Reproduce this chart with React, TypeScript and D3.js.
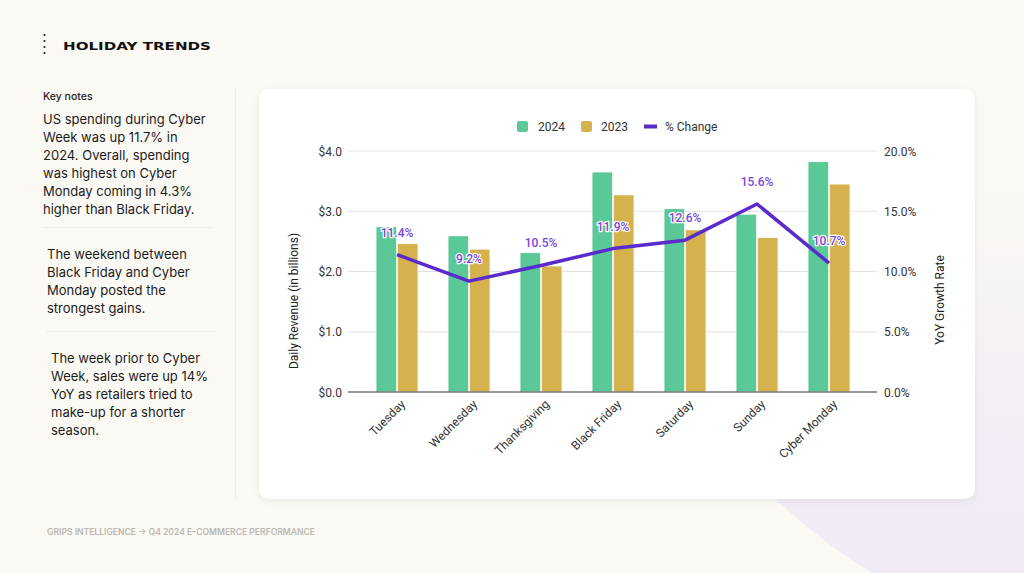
import React from "react";
import * as d3 from "d3";

const categories = ["Tuesday", "Wednesday", "Thanksgiving", "Black Friday", "Saturday", "Sunday", "Cyber Monday"];
const revenue2024 = [2.74, 2.59, 2.31, 3.65, 3.04, 2.95, 3.82];
const revenue2023 = [2.46, 2.37, 2.09, 3.27, 2.69, 2.56, 3.45];
const pctChange = [11.4, 9.2, 10.5, 11.9, 12.6, 15.6, 10.7];
const leftTicks = [0, 1, 2, 3, 4];
const rightTicks = [0, 5, 10, 15, 20];
const seriesNames = ["2024", "2023"];

const note1 = ["US spending during Cyber", "Week was up 11.7% in", "2024. Overall, spending", "was highest on Cyber", "Monday coming in 4.3%", "higher than Black Friday."];
const note2 = ["The weekend between", "Black Friday and Cyber", "Monday posted the", "strongest gains."];
const note3 = ["The week prior to Cyber", "Week, sales were up 14%", "YoY as retailers tried to", "make-up for a shorter", "season."];

const GREEN = "#5bc898";
const GOLD = "#d5b24d";
const PURPLE = "#5a2bcc";
const LABEL_PURPLE = "#7a45e0";

export default function App() {
  const W = 1024, H = 573;
  const plotTop = 151, plotBottom = 392;
  const gridL = 348, gridR = 877;
  const x = d3.scaleBand<string>().domain(categories).range([361, 865]).paddingInner(0.42).paddingOuter(0.21);
  const xs = d3.scaleBand<string>().domain(seriesNames).range([0, x.bandwidth()]).paddingInner(0.06);
  const yL = d3.scaleLinear().domain([0, 4]).range([plotBottom, plotTop]);
  const yR = d3.scaleLinear().domain([0, 20]).range([plotBottom, plotTop]);
  const cx = (c: string) => (x(c) as number) + x.bandwidth() / 2;
  const line = d3.line<number>().x((_, i) => cx(categories[i])).y((v) => yR(v));
  const sans = "Inter, 'Noto Sans', sans-serif";
  const rob = "Roboto, 'Noto Sans', sans-serif";

  const notes = [
    { lines: note1, x: 43, y: 124 },
    { lines: note2, x: 47, y: 259 },
    { lines: note3, x: 51, y: 363 },
  ];

  return (
    <div style={{ position: "absolute", left: 0, top: 0, width: W, height: H }}>
      <svg width={W} height={H} style={{ display: "block" }}>
        <defs>
          <linearGradient id="lav" x1="0" y1="180" x2="0" y2="540" gradientUnits="userSpaceOnUse">
            <stop offset="0" stopColor="#f1ebf6" stopOpacity="0" />
            <stop offset="0.6" stopColor="#f1ebf6" stopOpacity="0.8" />
            <stop offset="1" stopColor="#f1ebf6" stopOpacity="1" />
          </linearGradient>
          <filter id="sh" x="-5%" y="-5%" width="110%" height="115%">
            <feDropShadow dx="0" dy="2" stdDeviation="3" floodColor="#000" floodOpacity="0.07" />
          </filter>
          <clipPath id="pg"><rect x="0" y="0" width={W} height={H} /></clipPath>
        </defs>
        <rect x={0} y={0} width={W} height={H} fill="#fbf9f3" />
        <g clipPath="url(#pg)">
          <circle cx={1157} cy={100} r={552} fill="url(#lav)" />
        </g>

        {/* header */}
        {[35, 41, 47, 53].map((yy) => (
          <circle key={yy} cx={44.5} cy={yy} r={1.1} fill="#222" />
        ))}
        <text x={63} y={50} fontFamily="'DejaVu Sans', sans-serif" fontWeight={700} fontSize={10} fill="#111" textLength={148} lengthAdjust="spacingAndGlyphs">HOLIDAY TRENDS</text>

        {/* notes */}
        <text x={43} y={100} fontFamily={sans} fontSize={10.5} fontWeight={500} fill="#222">Key notes</text>
        {notes.map((n, k) => (
          <text key={k} x={n.x} y={n.y} fontFamily={sans} fontSize={13} fill="#1c1c1c">
            {n.lines.map((l, i) => (
              <tspan key={i} x={n.x} y={n.y + i * 18}>{l}</tspan>
            ))}
          </text>
        ))}
        <line x1={43} x2={213} y1={227.5} y2={227.5} stroke="#e6e2dc" strokeDasharray="1 1" />
        <line x1={47} x2={217} y1={331.5} y2={331.5} stroke="#e6e2dc" strokeDasharray="1 1" />
        <line x1={235.5} x2={235.5} y1={88} y2={500} stroke="#e4e0da" strokeDasharray="1 1" />

        {/* footer */}
        <text x={47} y={535} fontFamily={sans} fontSize={8.5} fontWeight={600} fill="#bdb8b2" textLength={268} lengthAdjust="spacingAndGlyphs">GRIPS INTELLIGENCE → Q4 2024 E-COMMERCE PERFORMANCE</text>

        {/* card */}
        <rect x={259} y={89} width={716} height={410} rx={10} fill="#fff" filter="url(#sh)" />

        {/* legend */}
        <rect x={517} y={121} width={11} height={11} rx={2} fill={GREEN} />
        <text x={538} y={130.5} fontFamily={rob} fontSize={12} fill="#333">2024</text>
        <rect x={581} y={121} width={11} height={11} rx={2} fill={GOLD} />
        <text x={601} y={130.5} fontFamily={rob} fontSize={12} fill="#333">2023</text>
        <line x1={644} x2={657} y1={126.5} y2={126.5} stroke={PURPLE} strokeWidth={4} />
        <text x={665} y={130.5} fontFamily={rob} fontSize={12} fill="#333">% Change</text>

        {/* grid */}
        {leftTicks.map((t) => (
          <g key={t}>
            {t > 0 && <line x1={gridL} x2={gridR} y1={yL(t)} y2={yL(t)} stroke="#e2e2e2" strokeWidth={1} />}
            <text x={342} y={yL(t) + 4.5} textAnchor="end" fontFamily={rob} fontSize={12} fill="#333">{d3.format("$.1f")(t)}</text>
          </g>
        ))}
        {rightTicks.map((t) => (
          <text key={t} x={884} y={yR(t) + 4.5} fontFamily={rob} fontSize={12} fill="#333">{t.toFixed(1) + "%"}</text>
        ))}

        {/* bars */}
        {categories.map((c, i) => (
          <g key={c}>
            <rect x={(x(c) as number) + (xs("2024") as number)} y={yL(revenue2024[i])} width={xs.bandwidth()} height={yL(0) - yL(revenue2024[i])} fill={GREEN} stroke="#fff" strokeWidth={0.5} />
            <rect x={(x(c) as number) + (xs("2023") as number)} y={yL(revenue2023[i])} width={xs.bandwidth()} height={yL(0) - yL(revenue2023[i])} fill={GOLD} stroke="#fff" strokeWidth={0.5} />
          </g>
        ))}
        <line x1={gridL} x2={gridR} y1={plotBottom} y2={plotBottom} stroke="#777" strokeWidth={1.5} />

        {/* line */}
        <path d={line(pctChange) || ""} fill="none" stroke={PURPLE} strokeWidth={3.5} strokeLinejoin="round" />
        {pctChange.map((v, i) => (
          <text key={i} x={cx(categories[i])} y={yR(v) - 18} textAnchor="middle" fontFamily={rob} fontSize={12} fontWeight={500} fill={LABEL_PURPLE} stroke="#fff" strokeWidth={2.5} paintOrder="stroke" strokeLinejoin="round">{v.toFixed(1) + "%"}</text>
        ))}

        {/* x labels */}
        {categories.map((c) => (
          <text key={c} transform={`translate(${cx(c) + 6},${402}) rotate(-45)`} textAnchor="end" fontFamily={rob} fontSize={12} fill="#333" dy="0.35em">{c}</text>
        ))}

        {/* axis titles */}
        <text transform={`translate(298,301) rotate(-90)`} textAnchor="middle" fontFamily={rob} fontSize={12} fill="#222">Daily Revenue (in billions)</text>
        <text transform={`translate(944,300) rotate(-90)`} textAnchor="middle" fontFamily={rob} fontSize={12} fill="#222">YoY Growth Rate</text>
      </svg>
    </div>
  );
}
